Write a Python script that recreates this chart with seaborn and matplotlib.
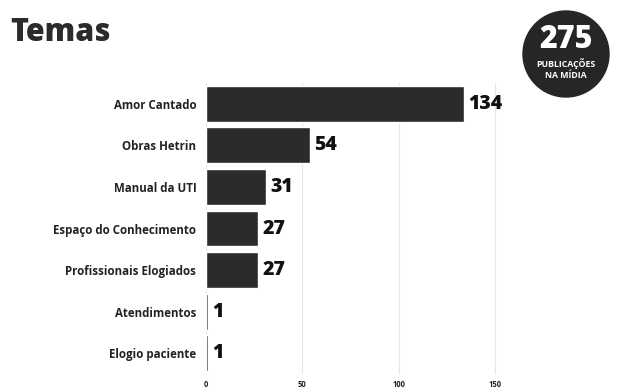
import pandas as pd
from matplotlib import pyplot as plt
from matplotlib.patches import Circle
import seaborn as sns

temas = ["Amor Cantado", "Obras Hetrin", "Manual da UTI", "Espaço do Conhecimento",
         "Profissionais Elogiados", "Atendimentos", "Elogio paciente"]
publicacoes = [134, 54, 31, 27, 27, 1, 1]
total = 275
x_ticks = [0, 50, 100, 150]

df = pd.DataFrame({"tema": temas, "n": publicacoes})

sns.set_theme(style="white")
plt.rcParams["font.family"] = ["Open Sans", "DejaVu Sans"]

fig = plt.figure(figsize=(6.24, 3.9), dpi=100)
ax = fig.add_axes([206 / 624, 1 - 374 / 390, 293 / 624, (374 - 83) / 390])

sns.barplot(data=df, x="n", y="tema", color="#2b2b2b", saturation=1, width=0.86, ax=ax)

#Value labels next to bars
for p, v in zip(ax.patches, publicacoes):
    ax.annotate(str(v), (p.get_width(), p.get_y() + p.get_height() / 2),
                xytext=(3, 0), textcoords="offset points",
                ha="left", va="center", fontsize=14, fontweight="heavy", color="#111111")

ax.set_xlim(0, 152)
ax.set_xticks(x_ticks)
ax.set_xticklabels([str(t) for t in x_ticks], fontsize=5.5, fontweight="bold", color="#222222")
ax.set_xlabel("")
ax.set_ylabel("")
ax.tick_params(axis="y", labelsize=8.3, pad=7, length=0)
ax.tick_params(axis="x", pad=4, length=0)
for lbl in ax.get_yticklabels():
    lbl.set_fontweight("bold")
    lbl.set_color("#222222")
ax.xaxis.grid(True, color="#e6e6e6", linewidth=0.8)
ax.set_axisbelow(True)
sns.despine(ax=ax, left=True, bottom=True)

#Title
fig.text(10 / 624, 1 - 33 / 390, "Temas", fontsize=22, fontweight="heavy",
         color="#2b2b2b", ha="left", va="center")

#Badge with the total
bx = fig.add_axes([0, 0, 1, 1], facecolor="none")
bx.set_xlim(0, 624)
bx.set_ylim(390, 0)
bx.axis("off")
bx.add_patch(Circle((566, 54), 43, color="#262626"))
bx.text(566, 40, str(total), color="white", fontsize=22, fontweight="heavy", ha="center", va="center")
bx.text(566, 64, "PUBLICAÇÕES", color="white", fontsize=6.3, fontweight="bold", ha="center", va="center")
bx.text(566, 75, "NA MÍDIA", color="white", fontsize=6.3, fontweight="bold", ha="center", va="center")

fig.savefig("out.png", dpi=100)
